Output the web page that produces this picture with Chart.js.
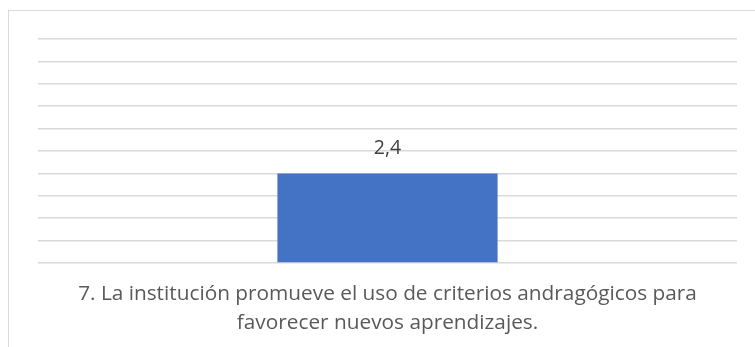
<!DOCTYPE html>
<html>
<head>
<meta charset="utf-8">
<script src="https://cdn.jsdelivr.net/npm/chart.js@4"></script>
<style>
  html, body { margin: 0; padding: 0; background: #fff; overflow: hidden; }
  #marco {
    position: absolute; left: 8px; top: 10px; width: 800px; height: 400px;
    border: 1px solid #d9d9d9; box-sizing: border-box;
  }
  #caja { position: absolute; left: 0; top: 0; width: 755px; height: 347px; }
</style>
</head>
<body>
<div id="marco"></div>
<div id="caja"><canvas id="grafico"></canvas></div>
<script>
// datos del grafico
const categorias = [['7. La institución promueve el uso de criterios andragógicos para', 'favorecer nuevos aprendizajes.']];
const valores = [2.4];
const ejeMax = 6;
const paso = 0.6;

// etiqueta encima de la barra, con coma decimal
const etiquetaValor = {
    id: 'etiquetaValor',
    afterDatasetsDraw(chart) {
        const ctx = chart.ctx;
        const meta = chart.getDatasetMeta(0);
        ctx.save();
        ctx.font = '19.5px "Open Sans"';
        ctx.fillStyle = '#404040';
        ctx.textAlign = 'center';
        ctx.textBaseline = 'middle';
        meta.data.forEach((barra, i) => {
            const texto = valores[i].toString().replace('.', ',');
            ctx.fillText(texto, barra.x, barra.y - 25);
        });
        ctx.restore();
    }
};

const ctx = document.getElementById('grafico').getContext('2d');
new Chart(ctx, {
    type: 'bar',
    data: {
        labels: categorias,
        datasets: [{
            data: valores,
            backgroundColor: '#4472c4',
            categoryPercentage: 1,
            barPercentage: 0.315
        }]
    },
    options: {
        responsive: true,
        maintainAspectRatio: false,
        animation: false,
        layout: { padding: { left: 38, right: 18, top: 39, bottom: 0 } },
        plugins: {
            legend: { display: false },
            tooltip: { enabled: false }
        },
        scales: {
            x: {
                grid: { display: false },
                border: { display: false },
                ticks: {
                    color: '#595959',
                    font: { family: 'Open Sans', size: 20.8, lineHeight: 1.38 },
                    padding: 9,
                    maxRotation: 0,
                    autoSkip: false
                },
                afterFit: (eje) => { eje.height = 84; }
            },
            y: {
                min: 0,
                max: ejeMax,
                ticks: { display: false, stepSize: paso },
                grid: { color: '#d9d9d9', lineWidth: 1.5, drawTicks: false },
                border: { display: false },
                afterFit: (eje) => { eje.width = 0; }
            }
        }
    },
    plugins: [etiquetaValor]
});
</script>
</body>
</html>
